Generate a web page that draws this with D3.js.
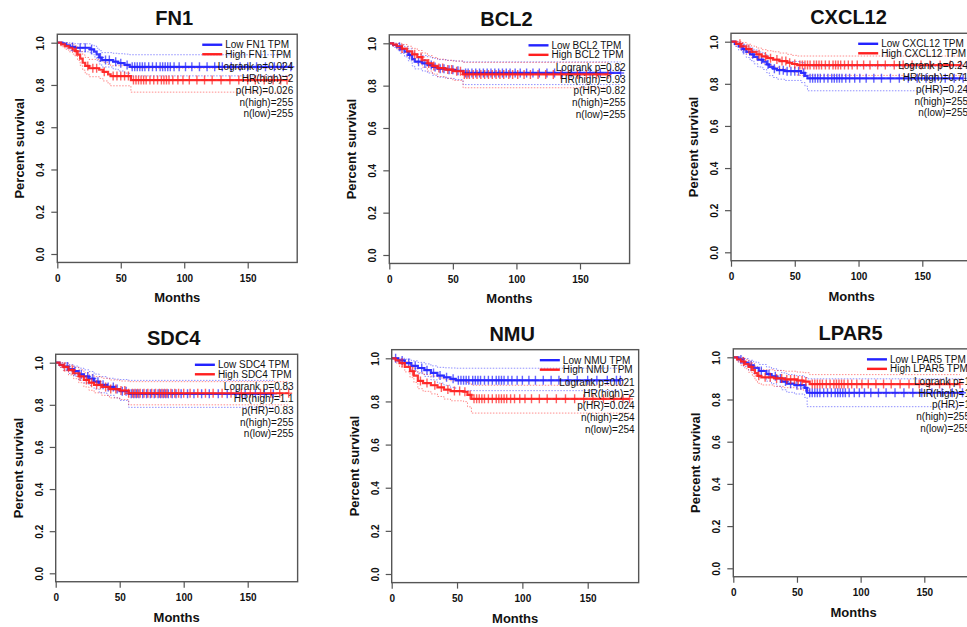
<!DOCTYPE html>
<html>
<head>
<meta charset="utf-8">
<script src="https://cdn.jsdelivr.net/npm/d3@7"></script>
<style>
body { margin: 0; background: #fff; }
svg { display: block; font-family: "Liberation Sans", Arial, sans-serif; }
</style>
</head>
<body>
<svg id="chart" width="967" height="627"></svg>
<script>
// genes shown, in panel order (row by row)
const genes = ['FN1', 'BCL2', 'CXCL12', 'SDC4', 'NMU', 'LPAR5'];

const xTicks = [0, 50, 100, 150];
const yTicks = [0, 0.2, 0.4, 0.6, 0.8, 1.0];

// each step: [month, survival, lower CI, upper CI]
const fn1Low = [[0,1,1,1],[4,0.996,0.988,1],[7,0.988,0.974,1],[10,0.98,0.963,0.997],[14,0.976,0.957,0.995],[26,0.968,0.946,0.99],[29,0.958,0.933,0.984],[31,0.945,0.917,0.974],[33,0.93,0.899,0.962],[35,0.918,0.885,0.953],[44,0.91,0.875,0.95],[48,0.903,0.866,0.948],[53,0.895,0.856,0.946],[57,0.886,0.843,0.943]];
const fn1High = [[0,1,1,1],[3,0.992,0.981,1],[6,0.984,0.969,0.999],[9,0.976,0.957,0.995],[12,0.968,0.946,0.99],[14,0.96,0.936,0.985],[16,0.944,0.916,0.973],[18,0.925,0.893,0.958],[20,0.905,0.87,0.942],[22,0.89,0.852,0.93],[25,0.879,0.839,0.921],[33,0.872,0.831,0.915],[36,0.862,0.819,0.907],[40,0.85,0.805,0.897],[42,0.842,0.796,0.891],[58,0.823,0.766,0.88]];
const bcl2Low = [[0,1,1,1],[3,0.992,0.981,1],[6,0.984,0.969,0.999],[9,0.972,0.952,0.992],[12,0.96,0.936,0.984],[15,0.945,0.917,0.974],[18,0.925,0.893,0.958],[20,0.913,0.879,0.948],[26,0.905,0.869,0.942],[30,0.897,0.86,0.936],[34,0.888,0.849,0.929],[38,0.88,0.84,0.923],[45,0.875,0.834,0.919],[52,0.87,0.828,0.916],[58,0.86,0.805,0.912]];
const bcl2High = [[0,1,1,1],[3,0.994,0.985,1],[6,0.986,0.972,1],[10,0.975,0.956,0.994],[14,0.962,0.939,0.986],[18,0.948,0.921,0.976],[22,0.935,0.905,0.966],[26,0.92,0.887,0.954],[30,0.905,0.869,0.942],[34,0.893,0.855,0.933],[38,0.883,0.843,0.925],[44,0.876,0.835,0.92],[50,0.868,0.825,0.916],[58,0.853,0.79,0.91]];
const cxcl12Low = [[0,1,1,1],[3,0.99,0.978,1],[6,0.978,0.96,0.996],[9,0.965,0.942,0.988],[12,0.952,0.925,0.979],[15,0.94,0.91,0.97],[18,0.928,0.895,0.961],[21,0.915,0.88,0.951],[25,0.905,0.868,0.943],[28,0.892,0.853,0.932],[30,0.88,0.839,0.922],[33,0.872,0.83,0.916],[36,0.865,0.822,0.91],[42,0.86,0.816,0.906],[55,0.852,0.806,0.9],[58,0.838,0.789,0.889],[60,0.826,0.767,0.884]];
const cxcl12High = [[0,1,1,1],[4,0.99,0.978,1],[8,0.978,0.96,0.996],[12,0.965,0.942,0.988],[16,0.952,0.925,0.979],[20,0.94,0.91,0.97],[24,0.93,0.898,0.962],[28,0.922,0.888,0.957],[33,0.915,0.879,0.952],[38,0.908,0.871,0.946],[44,0.9,0.862,0.94],[48,0.894,0.855,0.935],[52,0.889,0.84,0.932]];
const sdc4Low = [[0,1,1,1],[3,0.99,0.978,1],[6,0.982,0.965,0.999],[10,0.97,0.949,0.991],[14,0.96,0.936,0.984],[18,0.945,0.917,0.974],[22,0.935,0.904,0.966],[26,0.925,0.892,0.958],[30,0.91,0.875,0.946],[34,0.895,0.857,0.934],[40,0.885,0.845,0.926],[46,0.875,0.833,0.922],[50,0.865,0.821,0.92],[57,0.852,0.788,0.916]];
const sdc4High = [[0,1,1,1],[3,0.99,0.978,1],[6,0.98,0.962,0.998],[10,0.965,0.942,0.988],[14,0.95,0.924,0.977],[18,0.935,0.905,0.966],[22,0.918,0.885,0.952],[26,0.905,0.869,0.942],[30,0.895,0.857,0.934],[36,0.885,0.845,0.926],[42,0.875,0.833,0.918],[50,0.868,0.825,0.913],[57,0.855,0.8,0.91]];
const nmuLow = [[0,1,1,1],[5,0.99,0.978,1],[10,0.978,0.96,0.996],[15,0.965,0.942,0.988],[20,0.955,0.929,0.981],[25,0.945,0.916,0.974],[30,0.932,0.9,0.965],[35,0.92,0.885,0.958],[40,0.912,0.875,0.956],[45,0.905,0.865,0.955],[49,0.898,0.85,0.954]];
const nmuHigh = [[0,1,1,1],[3,0.99,0.978,1],[6,0.978,0.96,0.996],[10,0.96,0.937,0.984],[14,0.94,0.912,0.969],[17,0.92,0.888,0.953],[20,0.895,0.859,0.933],[24,0.885,0.847,0.925],[30,0.875,0.835,0.917],[35,0.865,0.823,0.909],[40,0.855,0.811,0.901],[45,0.848,0.803,0.896],[55,0.845,0.799,0.894],[58,0.83,0.775,0.885],[61,0.812,0.746,0.875]];
const lpar5Low = [[0,1,1,1],[4,0.99,0.978,1],[8,0.975,0.956,0.994],[12,0.962,0.938,0.986],[16,0.95,0.923,0.977],[20,0.935,0.905,0.966],[26,0.92,0.887,0.954],[30,0.91,0.875,0.946],[34,0.9,0.863,0.938],[38,0.885,0.846,0.926],[42,0.875,0.834,0.918],[48,0.868,0.826,0.913],[56,0.855,0.81,0.904],[58,0.832,0.766,0.898]];
const lpar5High = [[0,1,1,1],[3,0.99,0.978,1],[6,0.98,0.962,0.998],[9,0.968,0.946,0.99],[12,0.955,0.929,0.981],[15,0.94,0.91,0.97],[17,0.925,0.892,0.958],[19,0.912,0.877,0.947],[22,0.905,0.869,0.941],[32,0.9,0.862,0.937],[40,0.895,0.856,0.934],[50,0.89,0.85,0.93],[55,0.885,0.843,0.927],[60,0.873,0.828,0.918]];

// censored observation times (months)
const fn1LowCens = [12,18,22,27,34,38,41,46,50,55,59,61,63,65,67,69,72,75,78,81,83,85,87,89,92,96,101,106,112,118,124,130,137,144,150,157,164,171,178,184];
const fn1HighCens = [15,24,28,31,37,44,47,50,53,56,60,62,64,66,68,70,73,76,79,82,84,86,88,91,95,99,104,110,116,122,129,136,143,150,156,163,170,176,181];
const bcl2LowCens = [8,16,23,28,33,36,40,43,47,50,54,60,62,65,68,71,74,77,80,83,86,89,92,95,99,103,108,113,118,124,130,136,143,150,158,166,174,182];
const bcl2HighCens = [10,20,25,31,35,39,42,46,49,53,56,59,61,63,66,69,72,75,78,81,84,87,90,94,97,101,106,111,117,123,129,135,141,148,155,163,172];
const cxcl12LowCens = [10,17,24,29,34,38,41,44,47,50,53,57,62,64,66,68,70,73,76,79,81,83,85,87,90,93,97,101,106,112,118,125,132,139,146,153,160,168,175,182];
const cxcl12HighCens = [7,14,22,27,31,36,40,43,46,50,54,56,58,60,62,65,67,69,71,74,77,80,82,84,86,89,92,95,99,104,109,115,121,128,135,142,149,156,164,172,180];
const sdc4LowCens = [9,15,20,25,29,33,37,41,45,48,52,55,59,61,63,65,68,71,74,77,80,82,84,86,88,91,94,98,103,108,114,120,127,134,141,148,156,163,170];
const sdc4HighCens = [7,13,19,24,28,32,35,39,43,47,51,54,57,60,62,64,66,69,72,75,78,81,83,85,87,90,93,96,100,105,111,117,123,130,137,145,152,160,168,175,182];
const nmuLowCens = [3,8,13,18,23,27,32,37,42,47,51,53,55,57,59,62,64,66,68,71,74,77,80,82,84,86,89,92,96,100,105,110,116,122,128,135,142,150,157,165,172,175];
const nmuHighCens = [8,16,22,27,33,38,43,48,52,56,60,63,65,67,69,71,74,77,80,82,84,86,88,91,94,98,102,107,113,119,126,133,140,147,154,162,170,177,182];
const lpar5LowCens = [6,14,22,28,33,37,41,45,50,53,57,60,62,64,66,68,71,74,77,80,82,84,86,88,91,95,99,103,108,114,120,127,134,141,148,156,164,172,180];
const lpar5HighCens = [8,14,20,25,29,34,38,42,45,48,51,54,57,62,64,66,68,70,73,76,79,81,83,85,87,90,93,97,101,106,112,118,124,131,138,146,154,162,170,178];

const lowSteps = [fn1Low, bcl2Low, cxcl12Low, sdc4Low, nmuLow, lpar5Low];
const highSteps = [fn1High, bcl2High, cxcl12High, sdc4High, nmuHigh, lpar5High];
const lowCens = [fn1LowCens, bcl2LowCens, cxcl12LowCens, sdc4LowCens, nmuLowCens, lpar5LowCens];
const highCens = [fn1HighCens, bcl2HighCens, cxcl12HighCens, sdc4HighCens, nmuHighCens, lpar5HighCens];

const logrankP = ['0.024', '0.82', '0.24', '0.83', '0.021', '1'];
const hrHigh = ['2', '0.93', '0.71', '1.1', '2', '1'];
const pHR = ['0.026', '0.82', '0.24', '0.83', '0.024', '1'];
const nHigh = [255, 255, 255, 255, 254, 255];
const nLow = [255, 255, 255, 255, 254, 255];

// panel placement: pixel position of month 0 / month 150 and of survival 0 / 1
const layout = [
    { x0: 57.3, x150: 247.7, y0: 254, y1: 42.7 },
    { x0: 389.3, x150: 580, y0: 255, y1: 43.3 },
    { x0: 731, x150: 922.3, y0: 252.3, y1: 41.7 },
    { x0: 55.7, x150: 247.7, y0: 573.3, y1: 362.7 },
    { x0: 391.7, x150: 587.7, y0: 574, y1: 358.3 },
    { x0: 733.3, x150: 924.3, y0: 568.3, y1: 357.3 }
];

const BLUE = '#2323ff';
const RED = '#ff1f1f';
const FRAME = '#555';

const svg = d3.select('#chart');

// survival value in effect at time t (step function)
const stepAt = (steps, t) => {
    const i = d3.bisector(d => d[0]).right(steps, t) - 1;
    return steps[Math.max(i, 0)];
};

genes.forEach((gene, p) => {
    const L = layout[p];
    const x = d3.scaleLinear().domain([0, 150]).range([L.x0, L.x150]);
    const y = d3.scaleLinear().domain([0, 1]).range([L.y0, L.y1]);
    const left = x(0), right = x(189), top = y(1.04), bottom = y(-0.04);
    const mid = (left + right) / 2;

    const g = svg.append('g');

    const groups = [
        { steps: lowSteps[p], cens: lowCens[p], color: BLUE },
        { steps: highSteps[p], cens: highCens[p], color: RED }
    ];

    // confidence bands (dotted)
    groups.forEach(grp => {
        const end = d3.max(grp.cens);
        const pts = [...grp.steps, [end, ...grp.steps[grp.steps.length - 1].slice(1)]];
        [2, 3].forEach(k => {
            g.append('path')
                .datum(pts)
                .attr('fill', 'none')
                .attr('stroke', grp.color)
                .attr('stroke-width', 1)
                .attr('stroke-dasharray', '1.5,1.5')
                .attr('opacity', 0.5)
                .attr('d', d3.line().curve(d3.curveStepAfter).x(d => x(d[0])).y(d => y(d[k])));
        });
    });

    // survival curves + censor marks
    groups.forEach(grp => {
        const end = d3.max(grp.cens);
        const pts = [...grp.steps, [end, ...grp.steps[grp.steps.length - 1].slice(1)]];
        g.append('path')
            .datum(pts)
            .attr('fill', 'none')
            .attr('stroke', grp.color)
            .attr('stroke-width', 2.2)
            .attr('opacity', 0.9)
            .attr('d', d3.line().curve(d3.curveStepAfter).x(d => x(d[0])).y(d => y(d[1])));

        g.append('g')
            .selectAll('path')
            .data(grp.cens)
            .join('path')
            .attr('stroke', grp.color)
            .attr('stroke-width', 1.4)
            .attr('opacity', 0.7)
            .attr('d', t => {
                const cx = x(t), cy = y(stepAt(grp.steps, t)[1]);
                return `M${cx},${cy - 4.5}V${cy + 4.5}M${cx - 3.5},${cy}H${cx + 3.5}`;
            });
    });

    // frame
    g.append('rect')
        .attr('x', left)
        .attr('y', top)
        .attr('width', right - left)
        .attr('height', bottom - top)
        .attr('fill', 'none')
        .attr('stroke', FRAME)
        .attr('stroke-width', 1.4);

    // axes
    const xAxis = g.append('g')
        .attr('transform', `translate(0, ${bottom})`)
        .call(d3.axisBottom(x).tickValues(xTicks).tickSize(6).tickPadding(6));
    const yAxis = g.append('g')
        .attr('transform', `translate(${left}, 0)`)
        .call(d3.axisLeft(y).tickValues(yTicks).tickSize(6).tickFormat(d3.format('.1f')));

    [xAxis, yAxis].forEach(a => {
        a.select('.domain').remove();
        a.selectAll('line').attr('stroke', FRAME).attr('stroke-width', 1.2);
        a.selectAll('text')
            .attr('fill', '#111')
            .style('font-family', '"Liberation Sans", Arial, sans-serif')
            .style('font-size', '10px')
            .style('font-weight', 'bold');
    });
    yAxis.selectAll('text')
        .attr('x', null)
        .attr('dy', null)
        .attr('text-anchor', 'middle')
        .attr('transform', 'translate(-13, 0) rotate(-90)');

    // titles
    g.append('text')
        .attr('x', mid - 3)
        .attr('y', top - 9)
        .attr('text-anchor', 'middle')
        .style('font-size', '20px')
        .style('font-weight', 'bold')
        .attr('fill', '#111')
        .text(gene);

    g.append('text')
        .attr('x', mid)
        .attr('y', bottom + 40)
        .attr('text-anchor', 'middle')
        .style('font-size', '13px')
        .style('font-weight', 'bold')
        .attr('fill', '#111')
        .text('Months');

    g.append('text')
        .attr('transform', `translate(${left - 33}, ${(top + bottom) / 2}) rotate(-90)`)
        .attr('text-anchor', 'middle')
        .style('font-size', '13px')
        .style('font-weight', 'bold')
        .attr('fill', '#111')
        .text('Percent survival');

    // legend
    const legendItems = [
        { label: `Low ${gene} TPM`, color: BLUE },
        { label: `High ${gene} TPM`, color: RED }
    ];
    const legendTexts = legendItems.map((item, i) =>
        g.append('text')
            .attr('y', top + 14 + i * 9.5)
            .style('font-size', '10px')
            .attr('fill', '#111')
            .text(item.label));
    const maxW = d3.max(legendTexts, t => t.node().getComputedTextLength());
    const textX = right - 6 - maxW;
    legendTexts.forEach((t, i) => {
        t.attr('x', textX);
        g.append('line')
            .attr('x1', textX - 23)
            .attr('x2', textX - 3)
            .attr('y1', top + 10.5 + i * 9.5)
            .attr('y2', top + 10.5 + i * 9.5)
            .attr('stroke', legendItems[i].color)
            .attr('stroke-width', 2.4);
    });

    const statLines = [
        `Logrank p=${logrankP[p]}`,
        `HR(high)=${hrHigh[p]}`,
        `p(HR)=${pHR[p]}`,
        `n(high)=${nHigh[p]}`,
        `n(low)=${nLow[p]}`
    ];
    g.append('g')
        .selectAll('text')
        .data(statLines)
        .join('text')
        .attr('x', right - 4)
        .attr('y', (d, i) => top + 36 + i * 11.8)
        .attr('text-anchor', 'end')
        .style('font-size', '10px')
        .attr('fill', '#111')
        .text(d => d);
});
</script>
</body>
</html>
